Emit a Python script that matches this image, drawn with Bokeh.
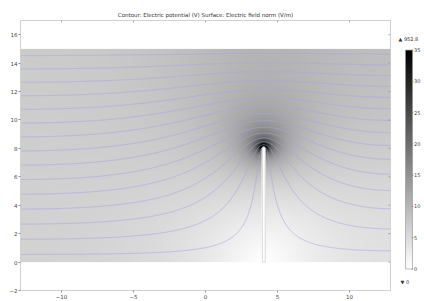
import numpy as np
from bokeh.plotting import figure
from bokeh.layouts import row
from bokeh.models import LinearColorMapper, FixedTicker, Range1d
from bokeh.core.properties import value
from bokeh.embed import file_html
from bokeh.resources import INLINE

# ---------------- data ----------------
title_text = "Contour: Electric potential (V) Surface: Electric field norm (V/m)"
domain_x = [-12.85, 12.85]          # gray computational domain (m)
domain_y = [0.0, 15.0]
top_potential = 100.0               # V on the top boundary, bottom + rod grounded
rod_x = 4.05                        # thin grounded rod
rod_half_width = 0.1
rod_top = 8.0
potential_levels = [3.333, 10.0, 16.667, 23.333, 30.0, 36.667, 43.333, 50.0,
                    56.667, 63.333, 70.0, 76.667, 83.333, 90.0, 96.667]
x_ticks = [-10, -5, 0, 5, 10]
y_ticks = [-2, 0, 2, 4, 6, 8, 10, 12, 14, 16]
view_x = [-12.85, 12.85]
view_y = [-2.0, 17.0]
cbar_ticks = [0, 5, 10, 15, 20, 25, 30, 35]
cbar_range = [0.0, 35.0]
max_label = "\u25b2 952.8"
min_label = "\u25bc 0"

# ---------------- Laplace solve (finite differences, red-black SOR) ----------------
X0, X1 = domain_x
Y0, Y1 = domain_y
L, H = X1 - X0, Y1 - Y0


def grid(h):
    nx = int(round(L / h)) + 1
    ny = int(round(H / h)) + 1
    return np.linspace(X0, X1, nx), np.linspace(Y0, Y1, ny)


def rod_mask(XX, YY, h):
    hw = max(rod_half_width, 0.5 * h) + 1e-9
    body = (np.abs(XX - rod_x) <= hw) & (YY <= rod_top)
    cap = (XX - rod_x) ** 2 + (YY - rod_top) ** 2 <= hw ** 2
    return body | cap


def regrid(V, xs, ys, xn, yn):
    tmp = np.array([np.interp(xn, xs, r) for r in V])
    return np.array([np.interp(yn, ys, c) for c in tmp.T]).T


def relax(V, fixed, iters, omega):
    ii, jj = np.indices(V.shape)
    free = ~fixed
    masks = [(((ii + jj) % 2 == p) & free).astype(float) for p in (0, 1)]
    S = np.zeros_like(V)
    for _ in range(iters):
        for m in masks:
            S[:] = 0.0
            S[1:-1, :] = V[:-2, :] + V[2:, :]
            S[:, 1:-1] += V[:, :-2] + V[:, 2:]
            S[:, 0] += 2.0 * V[:, 1]
            S[:, -1] += 2.0 * V[:, -2]
            S[0, :] = 0.0
            S[-1, :] = 0.0
            V += omega * m * (0.25 * S - V)
    return V


V = None
xs_prev = ys_prev = None
for h, iters, omega in [(0.2, 2500, 1.95), (0.1, 900, 1.97), (0.05, 450, 1.98)]:
    xs, ys = grid(h)
    XX, YY = np.meshgrid(xs, ys)
    rod = rod_mask(XX, YY, h)
    fixed = rod.copy()
    fixed[0, :] = True
    fixed[-1, :] = True
    fixval = np.where(YY >= Y1 - 1e-9, top_potential, 0.0)
    if V is None:
        V = top_potential * (YY - Y0) / H
    else:
        V = regrid(V, xs_prev, ys_prev, xs, ys)
    V[fixed] = fixval[fixed]
    V = relax(V, fixed, iters, omega)
    xs_prev, ys_prev = xs, ys

gy, gx = np.gradient(V, ys, xs)
E = np.hypot(gx, gy)
E[rod] = np.nan

# ---------------- figure ----------------
grays = ["#%02x%02x%02x" % (v, v, v) for v in range(255, -1, -1)]
cmap = LinearColorMapper(palette=grays, low=cbar_range[0], high=cbar_range[1],
                         high_color="#000000", low_color="#ffffff", nan_color="#ffffff")

FONT = "DejaVu Sans"
p = figure(width=396, height=301, output_backend="svg", toolbar_location=None,
           x_range=Range1d(*view_x), y_range=Range1d(*view_y),
           min_border_left=20, min_border_right=6, min_border_top=20, min_border_bottom=8)
p.title.text = title_text
p.title.align = "center"
p.title.text_font = FONT
p.title.text_font_size = "5.5px"
p.title.text_font_style = "normal"
p.title.text_color = "#333333"
p.title.standoff = 6
p.xgrid.visible = False
p.ygrid.visible = False
p.outline_line_color = "#d0d0d0"
p.background_fill_color = "white"
p.border_fill_color = "white"

p.image(image=[E], x=X0, y=Y0, dw=L, dh=H, color_mapper=cmap)
p.contour(x=xs, y=ys, z=V, levels=potential_levels,
          line_color="#a8a8e8", line_width=0.6)

# rod drawn as a hole in the domain
th = np.linspace(0, np.pi, 30)
rx = np.concatenate([[rod_x + rod_half_width], rod_x + rod_half_width * np.cos(th),
                     [rod_x - rod_half_width]])
ry = np.concatenate([[Y0], rod_top + rod_half_width * np.sin(th), [Y0]])
p.patch(rx, ry, fill_color="white", line_color="#c0c0c0", line_width=0.6)

minus = {t: ("\u2212" + str(abs(t)) if t < 0 else str(t)) for t in x_ticks + y_ticks}
p.xaxis.ticker = FixedTicker(ticks=x_ticks)
p.yaxis.ticker = FixedTicker(ticks=y_ticks)
for ax in (p.xaxis[0], p.yaxis[0]):
    ax.major_label_overrides = minus
    ax.major_tick_out = 2
    ax.major_tick_in = 0
    ax.minor_tick_out = 0
    ax.minor_tick_in = 0
    ax.major_label_standoff = 1
    ax.major_label_text_font = FONT
    ax.major_label_text_font_size = "5.5px"
    ax.major_label_text_color = "#444444"
    ax.axis_line_color = "#d0d0d0"
    ax.major_tick_line_color = "#909090"

# small inward ticks on the top and right edges of the frame
tick_len_x = 0.14
tick_len_y = 0.14
p.segment(x0=x_ticks, x1=x_ticks, y0=[view_y[1]] * len(x_ticks),
          y1=[view_y[1] - tick_len_y] * len(x_ticks), line_color="#909090", line_width=0.8)
p.segment(x0=[view_x[1]] * len(y_ticks), x1=[view_x[1] - tick_len_x] * len(y_ticks),
          y0=y_ticks, y1=y_ticks, line_color="#909090", line_width=0.8)

# ---------------- colour legend ----------------
cb = figure(width=28, height=301, output_backend="svg", toolbar_location=None,
            x_range=Range1d(0, 28), y_range=Range1d(-3.44, 39.73), min_border=0)
cb.axis.visible = False
cb.grid.visible = False
cb.outline_line_color = None
cb.background_fill_color = "white"
cb.border_fill_color = "white"
grad = np.linspace(cbar_range[0], cbar_range[1], 256).reshape(-1, 1)
cb.image(image=[grad], x=9, y=cbar_range[0], dw=7, dh=cbar_range[1] - cbar_range[0],
         color_mapper=cmap)
cb.quad(left=[9], right=[16], bottom=[cbar_range[0]], top=[cbar_range[1]],
        fill_color=None, line_color="#909090", line_width=0.6)
cb.segment(x0=[15] * len(cbar_ticks), x1=[17] * len(cbar_ticks), y0=cbar_ticks, y1=cbar_ticks,
           line_color="#707070", line_width=0.6)
cb.text(x=[17.5] * len(cbar_ticks), y=cbar_ticks, text=[str(t) for t in cbar_ticks],
        text_font=value(FONT), text_font_size="5px", text_color="#444444",
        text_baseline="middle", text_align="left")
cb.text(x=[2], y=[36.75], text=[max_label], text_font=value(FONT), text_font_size="5px",
        text_color="#333333", text_baseline="middle", text_align="left")
cb.text(x=[4], y=[-2.15], text=[min_label], text_font=value(FONT), text_font_size="5px",
        text_color="#333333", text_baseline="middle", text_align="left")

layout = row(p, cb)
open("out.html", "w").write(file_html(layout, INLINE))
